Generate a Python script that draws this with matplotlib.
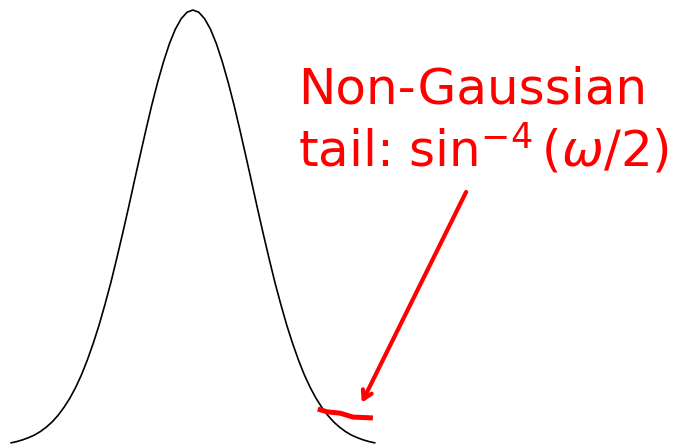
import numpy as np
import matplotlib
matplotlib.use("Agg")
import matplotlib.pyplot as plt

# Spectral density, sampled on omega in [-3.1, 3.1]
omega = np.round(np.arange(-31, 32) / 10.0, 1)
half = [1.000, 0.995, 0.980, 0.956, 0.923, 0.882, 0.835, 0.783, 0.726, 0.667,
        0.607, 0.546, 0.487, 0.430, 0.375, 0.325, 0.278, 0.236, 0.198, 0.164,
        0.135, 0.110, 0.089, 0.071, 0.056, 0.044, 0.034, 0.026, 0.020, 0.015,
        0.011, 0.008]
density = half[:0:-1] + half

# Heavier tail segment
tail_omega = [2.13, 2.29, 2.51, 2.73, 3.07]
tail_density = [0.0855, 0.079, 0.076, 0.067, 0.065]

label = "Non-Gaussian\ntail: sin$^{-4}\\,(\\omega\u2215 2)$"

fig = plt.figure(figsize=(6.86, 4.45), dpi=100)
ax = fig.add_axes([0, 0, 1, 1])
ax.plot(omega, density, color="black", lw=1.2)
ax.plot(tail_omega, tail_density, color="red", lw=3.6, solid_capstyle="butt")

ax.annotate("", xy=(2.88, 0.10), xytext=(4.66, 0.583),
            arrowprops=dict(arrowstyle="->,head_length=0.6,head_width=0.35",
                            color="red", lw=3, shrinkA=0, shrinkB=0))
fig.text(298 / 686, 1 - 66 / 445, label, color="red", fontsize=36,
         ha="left", va="top", linespacing=1.15)

ax.set_xlim(-3.29, 8.41)
ax.set_ylim(0.003, 1.023)
ax.axis("off")
fig.savefig("out.png", dpi=100)
